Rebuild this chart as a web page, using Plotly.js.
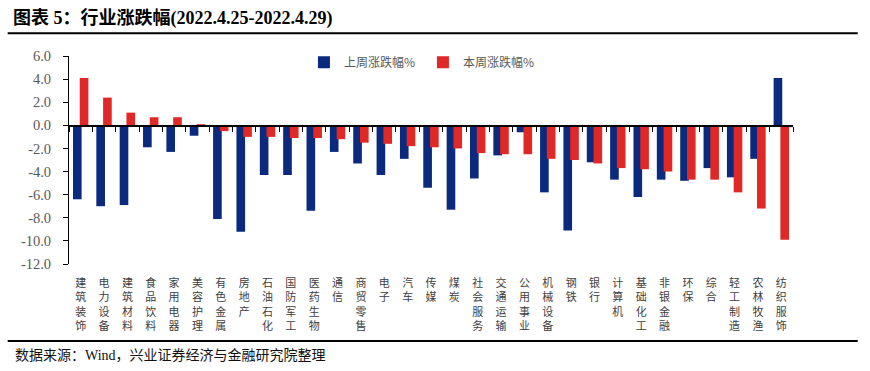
<!DOCTYPE html>
<html>
<head>
<meta charset="utf-8">
<script src="https://cdn.plot.ly/plotly-3.0.1.min.js"></script>
<style>html,body{margin:0;padding:0;background:#fff;}#chart{width:870px;height:371px;}</style>
</head>
<body>
<div id="chart"></div>
<script>
var categories = ["建筑装饰","电力设备","建筑材料","食品饮料","家用电器","美容护理","有色金属","房地产","石油石化","国防军工","医药生物","通信","商贸零售","电子","汽车","传媒","煤炭","社会服务","交通运输","公用事业","机械设备","钢铁","银行","计算机","基础化工","非银金融","环保","综合","轻工制造","农林牧渔","纺织服饰"];
var lastWeek = [-6.4,-7.0,-6.9,-1.9,-2.3,-0.9,-8.1,-9.2,-4.3,-4.3,-7.4,-2.3,-3.3,-4.3,-2.9,-5.4,-7.3,-4.6,-2.6,-0.6,-5.8,-9.1,-3.2,-4.7,-6.2,-4.7,-4.8,-3.7,-4.5,-2.9,4.1];
var thisWeek = [4.1,2.4,1.1,0.7,0.7,0.1,-0.5,-1.0,-1.0,-1.1,-1.1,-1.2,-1.5,-1.6,-1.8,-1.9,-2.0,-2.4,-2.5,-2.5,-2.9,-3.0,-3.3,-3.7,-3.8,-4.0,-4.7,-4.7,-5.8,-7.2,-9.9];
var yTickVals = [6,4,2,0,-2,-4,-6,-8,-10,-12];
var yTickText = ["6.0","4.0","2.0","0.0","-2.0","-4.0","-6.0","-8.0","-10.0","-12.0"];
var seriesNames = ["上周涨跌幅%","本周涨跌幅%"];

var labelText = categories.map(function(c){ return c.split('').join('<br>'); });
var zeros = categories.map(function(){ return 0; });

var traces = [
  {type:'bar', name:seriesNames[0], x:categories, y:lastWeek, marker:{color:'#0b2a7e'}, width:0.37, offset:-0.33, hoverinfo:'skip'},
  {type:'bar', name:seriesNames[1], x:categories, y:thisWeek, marker:{color:'#e02926'}, width:0.37, offset:-0.04, hoverinfo:'skip'},
  {type:'scatter', mode:'none', x:categories, y:zeros, xaxis:'x2', showlegend:false, hoverinfo:'skip'}
];

var layout = {
  width:870, height:371,
  margin:{l:69, r:77, t:56, b:107},
  paper_bgcolor:'#fff', plot_bgcolor:'#fff',
  barmode:'overlay',
  showlegend:true,
  title:{
    text:'<b>图表 5：行业涨跌幅(2022.4.25-2022.4.29)</b>',
    font:{family:'Liberation Serif, Noto Sans CJK SC', size:18, color:'#000'},
    xref:'container', x:0.015, xanchor:'left',
    yref:'container', y:0.953, yanchor:'middle'
  },
  legend:{
    orientation:'h', x:0.3245, xanchor:'left', y:0.97, yanchor:'middle',
    font:{family:'Noto Sans CJK SC', size:12, color:'#595959'},
    bgcolor:'rgba(0,0,0,0)', itemwidth:30, entrywidth:74
  },
  xaxis:{
    type:'category', range:[-0.5,30.5], categoryarray:categories, categoryorder:'array',
    tickvals:categories, ticktext:labelText,
    showline:false, showgrid:false, zeroline:false, ticks:'', tickangle:0,
    ticklabelstandoff:11,
    tickfont:{family:'Noto Sans CJK SC', size:11, color:'#404040'},
    fixedrange:true
  },
  xaxis2:{
    type:'category', range:[-0.5,30.5], categoryarray:categories, categoryorder:'array',
    overlaying:'x', anchor:'free', position:0.6667,
    showline:true, linecolor:'#000', linewidth:1.5,
    ticks:'outside', ticklen:5, tickwidth:1, tickcolor:'#000', tickson:'boundaries',
    showticklabels:false, showgrid:false, zeroline:false, layer:'above traces'
  },
  yaxis:{
    range:[-12,6], tickvals:yTickVals, ticktext:yTickText,
    showline:true, linecolor:'#000', linewidth:1,
    ticks:'outside', ticklen:5, tickcolor:'#000',
    showgrid:false, zeroline:false,
    ticklabelstandoff:9,
    tickfont:{family:'Liberation Serif', size:14.5, color:'#595959'},
    fixedrange:true
  },
  shapes:[
    {type:'line', xref:'paper', yref:'paper', x0:-0.0847, x1:1.0894, y0:1.109, y1:1.109, line:{color:'#000', width:2}},
    {type:'line', xref:'paper', yref:'paper', x0:-0.0847, x1:1.0894, y0:-0.3697, y1:-0.3697, line:{color:'#000', width:2}}
  ],
  annotations:[
    {text:'数据来源：Wind，兴业证券经济与金融研究院整理', xref:'paper', yref:'paper', x:-0.077, y:-0.442, xanchor:'left', yanchor:'middle', showarrow:false,
     font:{family:'Liberation Serif, Noto Sans CJK SC', size:14, color:'#111'}}
  ]
};

Plotly.newPlot('chart', traces, layout, {staticPlot:true, displayModeBar:false});
</script>
</body>
</html>
